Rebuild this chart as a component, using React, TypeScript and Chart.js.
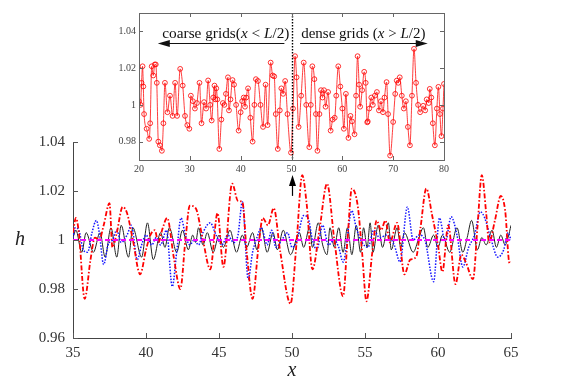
import React, { useEffect, useRef } from "react";
import { Chart, registerables } from "chart.js";
Chart.register(...registerables);

// ---------- DATA ----------
const mainXTicks = [35, 40, 45, 50, 55, 60, 65];
const mainYTicks = [0.96, 0.98, 1, 1.02, 1.04];
const insetXTicks = [20, 30, 40, 50, 60, 70, 80];
const insetYTicks = [0.98, 1, 1.02, 1.04];

// red dash-dot series (also the inset curve between 35 and 65)
const redMain: [number, number][] = [
  [35.0, 1.003], [35.2, 1.009], [35.4, 1.003], [35.8, 0.976], [36.2, 0.992], [36.5, 1.001],
  [36.8, 1.0], [37.1, 1.006], [37.5, 1.015], [37.7, 0.997], [38.0, 1.003], [38.4, 1.0135],
  [38.7, 1.011], [39.1, 1.0], [39.6, 0.986], [40.0, 0.996], [40.3, 1.002], [40.6, 1.004],
  [40.85, 0.999], [41.1, 1.004], [41.45, 1.009], [41.9, 0.993], [42.35, 0.98], [42.7, 1.0],
  [43.0, 1.014], [43.4, 1.013], [43.9, 1.0], [44.4, 0.988], [44.9, 1.011], [45.3, 0.989],
  [45.9, 1.023], [46.3, 1.016], [46.6, 1.0155], [46.9, 0.995], [47.3, 0.976], [47.7, 0.997],
  [48.0, 1.009], [48.35, 1.006], [48.75, 1.013], [49.2, 0.995], [49.9, 0.974], [50.3, 0.998],
  [50.7, 1.0265], [51.0, 1.015], [51.4, 0.988], [51.9, 1.005], [52.4, 1.023], [52.9, 1.0],
  [53.5, 0.977], [53.8, 1.0], [54.1, 1.021], [54.5, 1.014], [54.8, 0.995], [55.1, 0.975],
  [55.5, 0.995], [55.8, 1.008], [56.1, 1.004], [56.4, 1.008], [56.7, 0.999], [57.2, 1.007],
  [57.7, 0.986], [58.1, 0.992], [58.5, 0.993], [58.8, 1.005], [59.2, 1.021], [59.6, 1.01],
  [60.0, 0.998], [60.3, 0.987], [60.7, 1.006], [61.2, 0.982], [61.6, 0.994], [61.9, 0.991],
  [62.4, 0.984], [62.7, 1.005], [63.0, 1.0265], [63.3, 1.011], [63.5, 0.999], [63.9, 1.008],
  [64.3, 1.018], [64.6, 1.012], [64.9, 0.9905], [65.0, 0.991],
];

// blue dotted series
const blueMain: [number, number][] = [
  [35.0, 1.001], [35.15, 1.005], [35.4, 1.004], [35.7, 0.996], [36.0, 0.995], [36.3, 1.003],
  [36.6, 1.008], [36.8, 1.003], [37.1, 0.99], [37.4, 0.998], [37.7, 1.0], [38.0, 1.004],
  [38.3, 0.999], [38.7, 1.002], [39.0, 1.006], [39.4, 0.992], [39.7, 0.998], [40.0, 1.002],
  [40.4, 0.998], [40.7, 1.001], [41.0, 0.998], [41.4, 1.004], [41.8, 0.981], [42.1, 0.995],
  [42.4, 1.009], [42.7, 1.002], [43.0, 0.998], [43.3, 1.0], [43.6, 0.998], [43.9, 1.003],
  [44.4, 1.007], [44.8, 1.002], [45.2, 0.998], [45.6, 1.002], [46.0, 0.999], [46.3, 1.002],
  [46.6, 1.0155], [47.0, 0.984], [47.3, 0.995], [47.6, 1.001], [47.9, 1.005], [48.3, 0.998],
  [48.6, 1.004], [48.9, 0.997], [49.3, 1.0], [49.7, 1.003], [50.0, 0.997], [50.3, 0.999],
  [50.8, 1.01], [51.1, 1.009], [51.4, 1.0], [51.7, 0.996], [52.1, 1.006], [52.5, 0.998],
  [52.9, 1.0], [53.2, 0.997], [53.5, 0.991], [54.1, 1.012], [54.4, 1.005], [54.8, 0.999],
  [55.2, 0.997], [55.6, 1.004], [56.0, 1.001], [56.5, 1.002], [57.0, 0.998], [57.4, 0.991],
  [57.9, 1.0135], [58.3, 1.0], [58.7, 1.002], [59.1, 1.0], [59.7, 0.983], [60.1, 1.009],
  [60.5, 0.999], [60.9, 1.0095], [61.3, 1.002], [61.7, 0.989], [62.1, 0.997], [62.5, 1.002],
  [62.9, 1.0115], [63.2, 1.009], [63.6, 1.001], [64.1, 0.993], [64.5, 0.996], [64.8, 1.003],
  [65.0, 1.0],
];

// black solid series
const blackMain: [number, number][] = [
  [35.0, 1.001], [35.2, 1.004], [35.6, 0.995], [35.9, 1.003], [36.4, 0.995], [36.85, 1.003],
  [37.2, 0.993], [37.6, 1.005], [38.0, 0.993], [38.3, 1.006], [38.8, 0.993], [39.1, 1.005],
  [39.7, 0.993], [40.1, 1.007], [40.5, 0.992], [41.0, 1.003], [41.3, 0.997], [41.6, 1.005],
  [42.1, 0.995], [42.5, 1.004], [42.9, 0.996], [43.2, 1.002], [43.4, 0.999], [43.6, 1.005],
  [43.9, 0.998], [44.2, 1.003], [44.6, 0.995], [45.0, 1.002], [45.3, 0.997], [45.75, 1.004],
  [46.2, 0.995], [46.6, 1.002], [46.9, 0.997], [47.3, 1.003], [47.6, 0.996], [47.9, 1.005],
  [48.3, 0.995], [48.7, 1.003], [49.0, 0.996], [49.4, 1.004], [49.9, 0.994], [50.5, 1.003],
  [50.8, 0.997], [51.2, 1.005], [51.4, 0.997], [51.8, 1.007], [52.1, 0.998], [52.4, 0.994],
  [52.6, 1.005], [52.9, 0.997], [53.2, 1.005], [53.5, 0.995], [53.8, 1.005], [54.1, 0.994],
  [54.4, 1.006], [54.7, 0.995], [54.9, 1.005], [55.15, 0.997], [55.35, 1.007], [55.55, 0.995],
  [55.9, 1.006], [56.2, 0.997], [56.6, 1.007], [56.8, 0.996], [57.2, 1.005], [57.45, 0.997],
  [57.7, 1.003], [58.3, 0.995], [58.7, 1.001], [59.0, 1.005], [59.3, 0.997], [59.7, 1.002],
  [60.0, 0.997], [60.3, 1.002], [60.8, 0.995], [61.3, 1.005], [61.7, 0.995], [62.0, 1.001],
  [62.3, 1.008], [62.7, 0.996], [63.0, 1.001], [63.3, 0.998], [63.7, 1.004], [64.0, 0.997],
  [64.3, 1.002], [64.6, 0.998], [64.8, 1.001], [65.0, 1.006],
];

// magenta dashed reference line
const magentaMain: [number, number][] = [[35, 1], [65, 1]];

// inset curve, outside the 35..65 window
const insetLeft: [number, number][] = [
  [20.0, 1.002], [20.3, 1.0], [20.5, 1.012], [20.7, 1.021], [20.85, 1.01], [21.0, 0.995],
  [21.5, 0.987], [22.0, 0.9815], [22.2, 0.99], [22.5, 1.021], [22.8, 1.016], [23.1, 1.022],
  [23.3, 1.022], [23.5, 1.012], [23.8, 0.98], [24.1, 0.978], [24.5, 0.975], [24.8, 0.99],
  [25.1, 1.012], [25.6, 0.996], [26.1, 1.005], [26.6, 0.994], [27.1, 1.012], [27.5, 0.994],
  [28.1, 1.0196], [28.6, 1.0105], [29.05, 0.994], [29.5, 0.989], [29.9, 0.987], [30.2, 1.005],
  [30.6, 1.002], [31.0, 0.998], [31.4, 1.001], [31.9, 1.012], [32.3, 0.99], [32.8, 1.0015],
  [33.2, 0.998], [33.6, 1.0133], [34.0, 1.0], [34.3, 0.9915], [34.6, 1.004], [34.85, 1.0105],
];
const insetRight: [number, number][] = [
  [65.3, 0.998], [65.7, 1.004], [66.0, 1.0], [66.4, 1.005], [66.8, 1.007], [67.2, 0.997],
  [67.6, 1.002], [68.0, 0.996], [68.3, 1.004], [68.7, 1.0124], [69.0, 0.995], [69.4, 0.9724],
  [70.0, 0.9907], [70.4, 1.006], [70.7, 1.0132], [71.0, 1.012], [71.3, 1.015], [71.7, 1.005],
  [72.1, 0.998], [72.5, 1.002], [72.9, 0.988], [73.3, 0.978], [73.7, 1.005], [74.1, 1.0305],
  [74.5, 1.012], [74.9, 1.0], [75.3, 0.996], [75.9, 0.9995], [76.3, 0.997], [76.6, 1.003],
  [77.0, 1.001], [77.2, 1.0087], [77.5, 1.004], [77.8, 0.99], [78.2, 0.978], [78.6, 0.998],
  [78.9, 1.0098], [79.2, 0.995], [79.5, 0.983], [79.8, 0.998], [80.0, 1.0114],
];

const splitX = 50;
const coarseLabel = ["coarse grids(", "x", " < ", "L", "/2)"];
const denseLabel = ["dense grids (", "x", " > ", "L", "/2)"];

// ---------- HELPERS ----------
const serif = '"Liberation Serif", "DejaVu Serif", serif';
const pts = (a: [number, number][]) => a.map(([x, y]) => ({ x, y }));

function richText(ctx: CanvasRenderingContext2D, parts: string[], x: number, y: number, size: number, alignRight: boolean) {
  const fonts = parts.map((_, i) => (i % 2 === 1 ? `italic ${size}px ${serif}` : `${size}px ${serif}`));
  const widths = parts.map((p, i) => { ctx.font = fonts[i]; return ctx.measureText(p).width; });
  const total = widths.reduce((a, b) => a + b, 0);
  let cx = alignRight ? x - total : x;
  ctx.textAlign = "left";
  ctx.textBaseline = "middle";
  parts.forEach((p, i) => { ctx.font = fonts[i]; ctx.fillText(p, cx, y); cx += widths[i]; });
}

function hArrow(ctx: CanvasRenderingContext2D, from: number, tip: number, y: number) {
  const dir = tip > from ? 1 : -1;
  ctx.beginPath();
  ctx.moveTo(from, y);
  ctx.lineTo(tip - dir * 8, y);
  ctx.stroke();
  ctx.beginPath();
  ctx.moveTo(tip, y);
  ctx.lineTo(tip - dir * 12, y - 3.5);
  ctx.lineTo(tip - dir * 12, y + 3.5);
  ctx.closePath();
  ctx.fill();
}

const mainDecor = {
  id: "mainDecor",
  afterDraw(chart: any) {
    const { ctx, chartArea: ca, scales } = chart;
    const x = scales.x, y = scales.y;
    ctx.save();
    ctx.strokeStyle = "#555";
    ctx.lineWidth = 1;
    ctx.beginPath();
    mainXTicks.forEach((v) => { const p = Math.round(x.getPixelForValue(v)) + 0.5; ctx.moveTo(p, ca.bottom); ctx.lineTo(p, ca.bottom - 5); });
    mainYTicks.forEach((v) => { const p = Math.round(y.getPixelForValue(v)) + 0.5; ctx.moveTo(ca.left, p); ctx.lineTo(ca.left + 5, p); });
    ctx.stroke();
    // up arrow pointing to the inset split
    const ax = Math.round(x.getPixelForValue(splitX)) + 0.5;
    const tail = y.getPixelForValue(1.018);
    const tip = y.getPixelForValue(1.0265);
    ctx.strokeStyle = "#000";
    ctx.fillStyle = "#000";
    ctx.lineWidth = 1.2;
    ctx.beginPath(); ctx.moveTo(ax, tail); ctx.lineTo(ax, tip + 8); ctx.stroke();
    ctx.beginPath(); ctx.moveTo(ax, tip); ctx.lineTo(ax - 3.5, tip + 11); ctx.lineTo(ax + 3.5, tip + 11); ctx.closePath(); ctx.fill();
    // axis titles
    ctx.font = `italic 20px ${serif}`;
    ctx.fillStyle = "#222";
    ctx.textAlign = "center";
    ctx.textBaseline = "middle";
    ctx.fillText("h", 20, (ca.top + ca.bottom) / 2);
    ctx.fillText("x", (ca.left + ca.right) / 2, 371);
    ctx.restore();
  },
};

const insetDecor = {
  id: "insetDecor",
  afterDraw(chart: any) {
    const { ctx, chartArea: ca, scales } = chart;
    const x = scales.x, y = scales.y;
    ctx.save();
    // split line
    const sx = Math.round(x.getPixelForValue(splitX)) + 0.5;
    ctx.strokeStyle = "#000";
    ctx.lineWidth = 1.4;
    ctx.setLineDash([1.5, 1.5]);
    ctx.beginPath(); ctx.moveTo(sx, ca.top); ctx.lineTo(sx, ca.bottom); ctx.stroke();
    ctx.setLineDash([]);
    // frame + ticks
    ctx.strokeStyle = "#666";
    ctx.lineWidth = 1;
    ctx.strokeRect(Math.round(ca.left) + 0.5, Math.round(ca.top) + 0.5, Math.round(ca.right - ca.left), Math.round(ca.bottom - ca.top));
    ctx.beginPath();
    insetXTicks.forEach((v) => {
      const p = Math.round(x.getPixelForValue(v)) + 0.5;
      ctx.moveTo(p, ca.bottom); ctx.lineTo(p, ca.bottom - 4);
      ctx.moveTo(p, ca.top); ctx.lineTo(p, ca.top + 4);
    });
    insetYTicks.forEach((v) => {
      const p = Math.round(y.getPixelForValue(v)) + 0.5;
      ctx.moveTo(ca.left, p); ctx.lineTo(ca.left + 4, p);
      ctx.moveTo(ca.right, p); ctx.lineTo(ca.right - 4, p);
    });
    ctx.stroke();
    // labels and arrows
    ctx.fillStyle = "#111";
    ctx.strokeStyle = "#111";
    ctx.lineWidth = 1.2;
    const ty = y.getPixelForValue(1.0388);
    const ay = Math.round(y.getPixelForValue(1.0338)) + 0.5;
    richText(ctx, coarseLabel, x.getPixelForValue(49.6), ty, 15.3, true);
    richText(ctx, denseLabel, x.getPixelForValue(51.9), ty, 15, false);
    hArrow(ctx, x.getPixelForValue(48.6), x.getPixelForValue(23.7), ay);
    hArrow(ctx, x.getPixelForValue(51.7), x.getPixelForValue(76.8), ay);
    ctx.restore();
  },
};

const fmt = (v: any) => String(+Number(v).toFixed(2));

export default function App() {
  const mainRef = useRef<HTMLCanvasElement>(null);
  const insetRef = useRef<HTMLCanvasElement>(null);

  useEffect(() => {
    const main = new Chart(mainRef.current!, {
      type: "line",
      data: {
        datasets: [
          { data: pts(magentaMain), borderColor: "rgb(255,0,255)", borderWidth: 2, borderDash: [5, 3], pointRadius: 0 },
          { data: pts(redMain), borderColor: "rgb(255,0,0)", borderWidth: 1.8, borderDash: [5, 2, 1.5, 2], pointRadius: 0, cubicInterpolationMode: "monotone" },
          { data: pts(blueMain), borderColor: "rgb(20,20,255)", borderWidth: 1.5, borderDash: [1.5, 1.5], pointRadius: 0, cubicInterpolationMode: "monotone" },
          { data: pts(blackMain), borderColor: "#222", borderWidth: 1, pointRadius: 0, cubicInterpolationMode: "monotone" },
        ],
      },
      options: {
        animation: false,
        responsive: false,
        events: [],
        layout: { padding: { left: 0, top: 142, right: 54, bottom: 0 } },
        plugins: { legend: { display: false }, tooltip: { enabled: false } },
        scales: {
          x: {
            type: "linear", min: 35, max: 65,
            afterBuildTicks: (s: any) => { s.ticks = mainXTicks.map((v) => ({ value: v })); },
            afterFit: (s: any) => { s.height = 44; },
            grid: { display: false, drawTicks: false },
            border: { display: true, color: "#444", width: 1 },
            ticks: { font: { family: serif, size: 15 }, color: "#333", padding: 6, maxRotation: 0, autoSkip: false, callback: fmt },
          },
          y: {
            type: "linear", min: 0.96, max: 1.04,
            afterBuildTicks: (s: any) => { s.ticks = mainYTicks.map((v) => ({ value: v })); },
            afterFit: (s: any) => { s.width = 73; },
            grid: { display: false, drawTicks: false },
            border: { display: true, color: "#444", width: 1 },
            ticks: { font: { family: serif, size: 15 }, color: "#333", padding: 8, autoSkip: false, callback: fmt },
          },
        },
      },
      plugins: [mainDecor],
    } as any);

    const inset = new Chart(insetRef.current!, {
      type: "line",
      data: {
        datasets: [
          {
            data: pts([...insetLeft, ...redMain, ...insetRight]),
            borderColor: "rgba(255,0,0,0.85)", borderWidth: 0.9,
            pointRadius: 2.4, pointBorderWidth: 0.9, pointStyle: "circle",
            pointBorderColor: "rgba(255,0,0,0.9)", pointBackgroundColor: "rgba(255,255,255,0)",
            cubicInterpolationMode: "monotone",
          },
        ],
      },
      options: {
        animation: false,
        responsive: false,
        events: [],
        layout: { padding: { left: 0, top: 13, right: 16, bottom: 0 } },
        plugins: { legend: { display: false }, tooltip: { enabled: false } },
        scales: {
          x: {
            type: "linear", min: 20, max: 80,
            afterBuildTicks: (s: any) => { s.ticks = insetXTicks.map((v) => ({ value: v })); },
            afterFit: (s: any) => { s.height = 20; },
            grid: { display: false, drawTicks: false },
            border: { display: false },
            ticks: { font: { family: serif, size: 10 }, color: "#444", padding: 3, maxRotation: 0, autoSkip: false, callback: fmt },
          },
          y: {
            type: "linear", min: 0.97, max: 1.05,
            afterBuildTicks: (s: any) => { s.ticks = insetYTicks.map((v) => ({ value: v })); },
            afterFit: (s: any) => { s.width = 39; },
            grid: { display: false, drawTicks: false },
            border: { display: false },
            ticks: { font: { family: serif, size: 10 }, color: "#444", padding: 3, autoSkip: false, callback: fmt },
          },
        },
      },
      plugins: [insetDecor],
    } as any);

    return () => { main.destroy(); inset.destroy(); };
  }, []);

  return (
    <div style={{ position: "absolute", left: 0, top: 0, width: 565, height: 382, background: "#fff" }}>
      <canvas ref={mainRef} width={565} height={382} style={{ position: "absolute", left: 0, top: 0 }} />
      <canvas ref={insetRef} width={360} height={180} style={{ position: "absolute", left: 100, top: 0 }} />
    </div>
  );
}
